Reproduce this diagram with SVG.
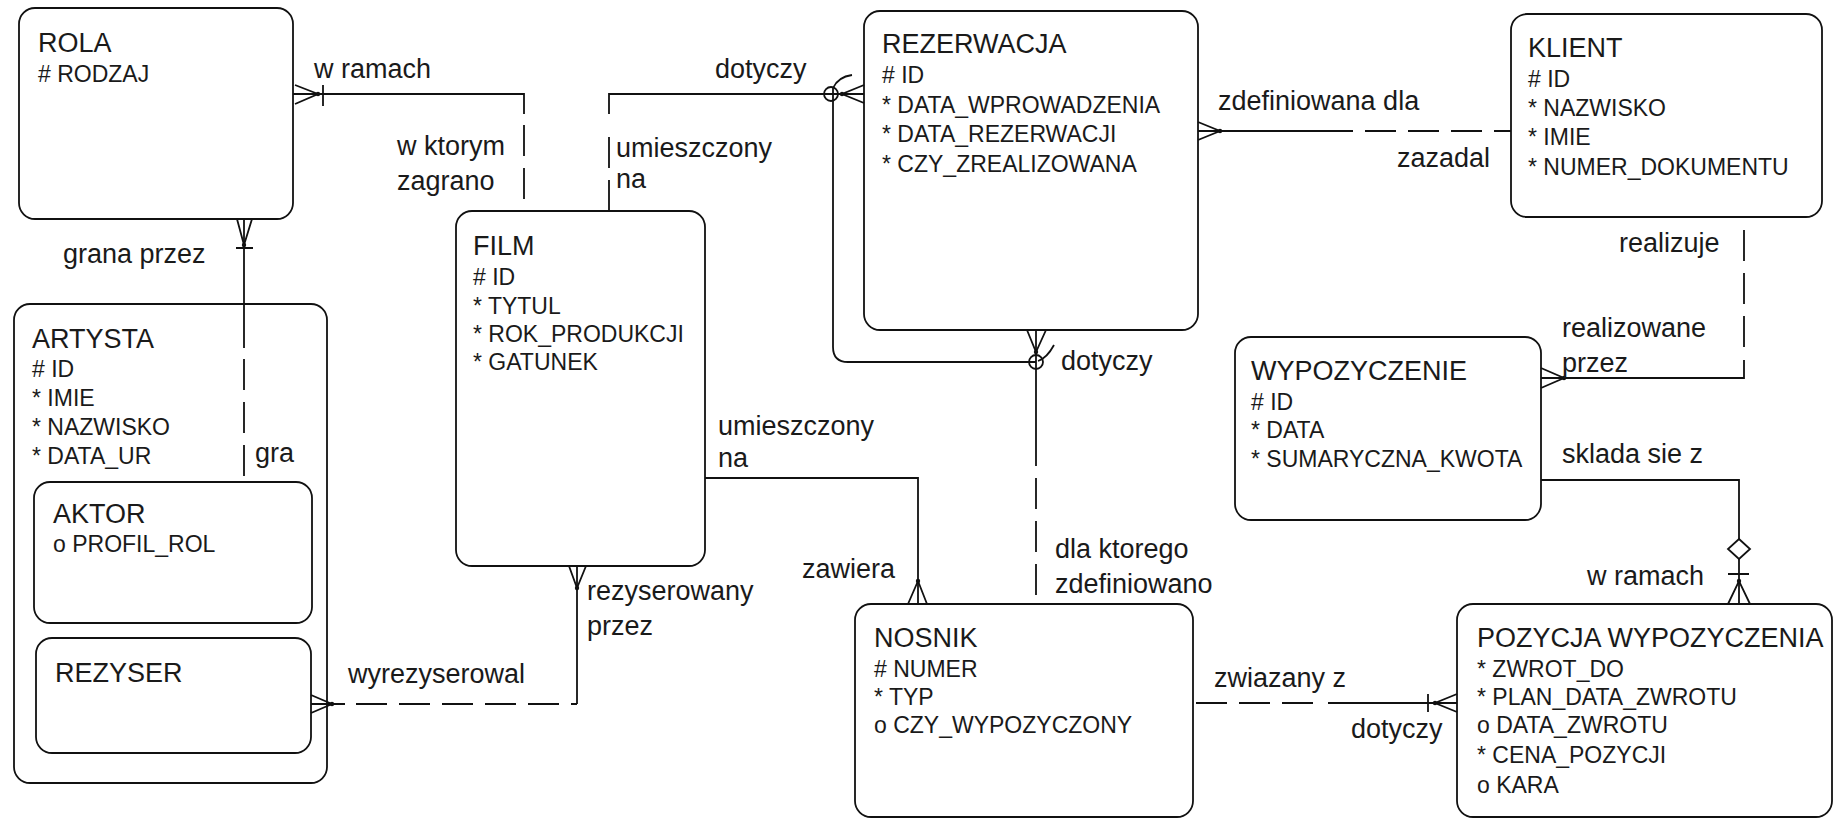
<svg xmlns="http://www.w3.org/2000/svg" width="1838" height="819" viewBox="0 0 1838 819">
<style>
.box{fill:#fff;stroke:#111;stroke-width:1.8}
.ln{fill:none;stroke:#111;stroke-width:1.8}
.ds{fill:none;stroke:#111;stroke-width:1.8;stroke-dasharray:31 12}
.dot{fill:#111}
.t{font-family:"Liberation Sans",Arial,sans-serif;font-size:27px;fill:#1a1a1a}
.a{font-family:"Liberation Sans",Arial,sans-serif;font-size:23px;fill:#1a1a1a}
.l{font-family:"Liberation Sans",Arial,sans-serif;font-size:27px;fill:#1a1a1a}
</style>
<rect width="1838" height="819" fill="#fff"/>

<g id="ROLA">
<rect class="box" x="19" y="8" width="274" height="211" rx="16"/>
<text class="t" x="38" y="52">ROLA</text>
<text class="a" x="38" y="82"># RODZAJ</text>
</g>

<g id="ARTYSTA">
<rect class="box" x="14" y="304" width="313" height="479" rx="16"/>
<text class="t" x="32" y="348">ARTYSTA</text>
<text class="a" x="32" y="377"># ID</text>
<text class="a" x="32" y="406">* IMIE</text>
<text class="a" x="32" y="435">* NAZWISKO</text>
<text class="a" x="32" y="464">* DATA_UR</text>
</g>

<g id="AKTOR">
<rect class="box" x="34" y="482" width="278" height="141" rx="16"/>
<text class="t" x="53" y="523">AKTOR</text>
<text class="a" x="53" y="552">o PROFIL_ROL</text>
</g>

<g id="REZYSER">
<rect class="box" x="36" y="638" width="275" height="115" rx="16"/>
<text class="t" x="55" y="682">REZYSER</text>
</g>

<g id="FILM">
<rect class="box" x="456" y="211" width="249" height="355" rx="16"/>
<text class="t" x="473" y="255">FILM</text>
<text class="a" x="473" y="285"># ID</text>
<text class="a" x="473" y="314">* TYTUL</text>
<text class="a" x="473" y="342">* ROK_PRODUKCJI</text>
<text class="a" x="473" y="370">* GATUNEK</text>
</g>

<g id="REZERWACJA">
<rect class="box" x="864" y="11" width="334" height="319" rx="16"/>
<text class="t" x="882" y="53">REZERWACJA</text>
<text class="a" x="882" y="83"># ID</text>
<text class="a" x="882" y="113">* DATA_WPROWADZENIA</text>
<text class="a" x="882" y="142">* DATA_REZERWACJI</text>
<text class="a" x="882" y="172">* CZY_ZREALIZOWANA</text>
</g>

<g id="KLIENT">
<rect class="box" x="1511" y="14" width="311" height="203" rx="16"/>
<text class="t" x="1528" y="57">KLIENT</text>
<text class="a" x="1528" y="87"># ID</text>
<text class="a" x="1528" y="116">* NAZWISKO</text>
<text class="a" x="1528" y="145">* IMIE</text>
<text class="a" x="1528" y="175">* NUMER_DOKUMENTU</text>
</g>

<g id="WYPOZYCZENIE">
<rect class="box" x="1235" y="337" width="306" height="183" rx="16"/>
<text class="t" x="1251" y="380">WYPOZYCZENIE</text>
<text class="a" x="1251" y="410"># ID</text>
<text class="a" x="1251" y="438">* DATA</text>
<text class="a" x="1251" y="467">* SUMARYCZNA_KWOTA</text>
</g>

<g id="NOSNIK">
<rect class="box" x="855" y="604" width="338" height="213" rx="16"/>
<text class="t" x="874" y="647">NOSNIK</text>
<text class="a" x="874" y="677"># NUMER</text>
<text class="a" x="874" y="705">* TYP</text>
<text class="a" x="874" y="733">o CZY_WYPOZYCZONY</text>
</g>

<g id="POZYCJA_WYPOZYCZENIA">
<rect class="box" x="1457" y="604" width="375" height="213" rx="16"/>
<text class="t" x="1477" y="647">POZYCJA WYPOZYCZENIA</text>
<text class="a" x="1477" y="677">* ZWROT_DO</text>
<text class="a" x="1477" y="705">* PLAN_DATA_ZWROTU</text>
<text class="a" x="1477" y="733">o DATA_ZWROTU</text>
<text class="a" x="1477" y="763">* CENA_POZYCJI</text>
<text class="a" x="1477" y="793">o KARA</text>
</g>

<g id="connectors">
<!-- ROLA - FILM -->
<path class="ln" d="M293,94 H524 V114"/>
<path class="ds" d="M524,125 V211"/>
<path class="ln" d="M295,85 L318,94 L295,104 M323,85 V106"/>
<circle class="dot" cx="318" cy="94" r="2.2"/>

<!-- ROLA - AKTOR -->
<path class="ln" d="M244,219 V348"/>
<path class="ds" d="M244,359 V482"/>
<path class="ln" d="M237,219 L244,245 L252,219 M236,248 H253"/>
<circle class="dot" cx="244" cy="245" r="2.2"/>

<!-- REZYSER - FILM -->
<path class="ln" d="M311,704 H345"/>
<path class="ds" d="M356,704 H577"/>
<path class="ln" d="M577,704 V566"/>
<path class="ln" d="M311,695 L332,704 L311,713"/>
<circle class="dot" cx="332" cy="704" r="2.2"/>
<path class="ln" d="M569,566 L577,588 L586,566"/>
<circle class="dot" cx="577" cy="588" r="2.2"/>

<!-- FILM - REZERWACJA -->
<path class="ds" d="M609,211 V125"/>
<path class="ln" d="M609,114 V94 H864"/>
<circle class="ln" cx="831" cy="94" r="7"/>
<path class="ln" d="M864,85 L842,94 L864,103"/>
<circle class="dot" cx="842" cy="94" r="2.2"/>

<!-- exclusive arc -->
<path class="ln" d="M852,75 Q838,77 833,88 V347 Q833,362 848,362 H1036"/>
<path class="ln" d="M1038,361 Q1047,358 1054,345"/>

<!-- REZERWACJA - NOSNIK -->
<path class="ln" d="M1036,330 V466"/>
<path class="ds" d="M1036,478 V604"/>
<circle class="ln" cx="1036" cy="362" r="7"/>
<path class="ln" d="M1027,330 L1036,352 L1046,330"/>
<circle class="dot" cx="1036" cy="352" r="2.2"/>

<!-- FILM - NOSNIK -->
<path class="ln" d="M705,478 H918 V604"/>
<path class="ln" d="M908,604 L918,581 L927,604"/>
<circle class="dot" cx="918" cy="581" r="2.2"/>

<!-- REZERWACJA - KLIENT -->
<path class="ln" d="M1198,131 H1353"/>
<path class="ds" d="M1365,131 H1511"/>
<path class="ln" d="M1198,122 L1220,131 L1198,140"/>
<circle class="dot" cx="1220" cy="131" r="2.2"/>

<!-- KLIENT - WYPOZYCZENIE -->
<path class="ds" d="M1744,230 V350"/>
<path class="ln" d="M1744,360 V378 H1541"/>
<path class="ln" d="M1541,368 L1564,378 L1541,388"/>
<circle class="dot" cx="1564" cy="378" r="2.2"/>

<!-- WYPOZYCZENIE - POZYCJA -->
<path class="ln" d="M1541,480 H1739 V604"/>
<path class="box" d="M1739,539 L1750,549 L1739,559 L1728,549 Z"/>
<path class="ln" d="M1728,574 H1749 M1728,604 L1739,581 L1750,604"/>
<circle class="dot" cx="1739" cy="581" r="2.2"/>

<!-- NOSNIK - POZYCJA -->
<path class="ds" d="M1196,703 H1318"/>
<path class="ln" d="M1328,703 H1457"/>
<path class="ln" d="M1428,694 V712 M1457,694 L1435,703 L1457,712"/>
<circle class="dot" cx="1435" cy="703" r="2.2"/>
</g>

<g id="labels">
<text class="l" x="314" y="78">w ramach</text>
<text class="l" x="397" y="155">w ktorym</text>
<text class="l" x="397" y="190">zagrano</text>
<text class="l" x="63" y="263">grana przez</text>
<text class="l" x="255" y="462">gra</text>
<text class="l" x="348" y="683">wyrezyserowal</text>
<text class="l" x="587" y="600">rezyserowany</text>
<text class="l" x="587" y="635">przez</text>
<text class="l" x="715" y="78">dotyczy</text>
<text class="l" x="616" y="157">umieszczony</text>
<text class="l" x="616" y="188">na</text>
<text class="l" x="1061" y="370">dotyczy</text>
<text class="l" x="718" y="435">umieszczony</text>
<text class="l" x="718" y="467">na</text>
<text class="l" x="802" y="578">zawiera</text>
<text class="l" x="1055" y="558">dla ktorego</text>
<text class="l" x="1055" y="593">zdefiniowano</text>
<text class="l" x="1218" y="110">zdefiniowana dla</text>
<text class="l" x="1397" y="167">zazadal</text>
<text class="l" x="1619" y="252">realizuje</text>
<text class="l" x="1562" y="337">realizowane</text>
<text class="l" x="1562" y="372">przez</text>
<text class="l" x="1562" y="463">sklada sie z</text>
<text class="l" x="1587" y="585">w ramach</text>
<text class="l" x="1214" y="687">zwiazany z</text>
<text class="l" x="1351" y="738">dotyczy</text>
</g>
</svg>
